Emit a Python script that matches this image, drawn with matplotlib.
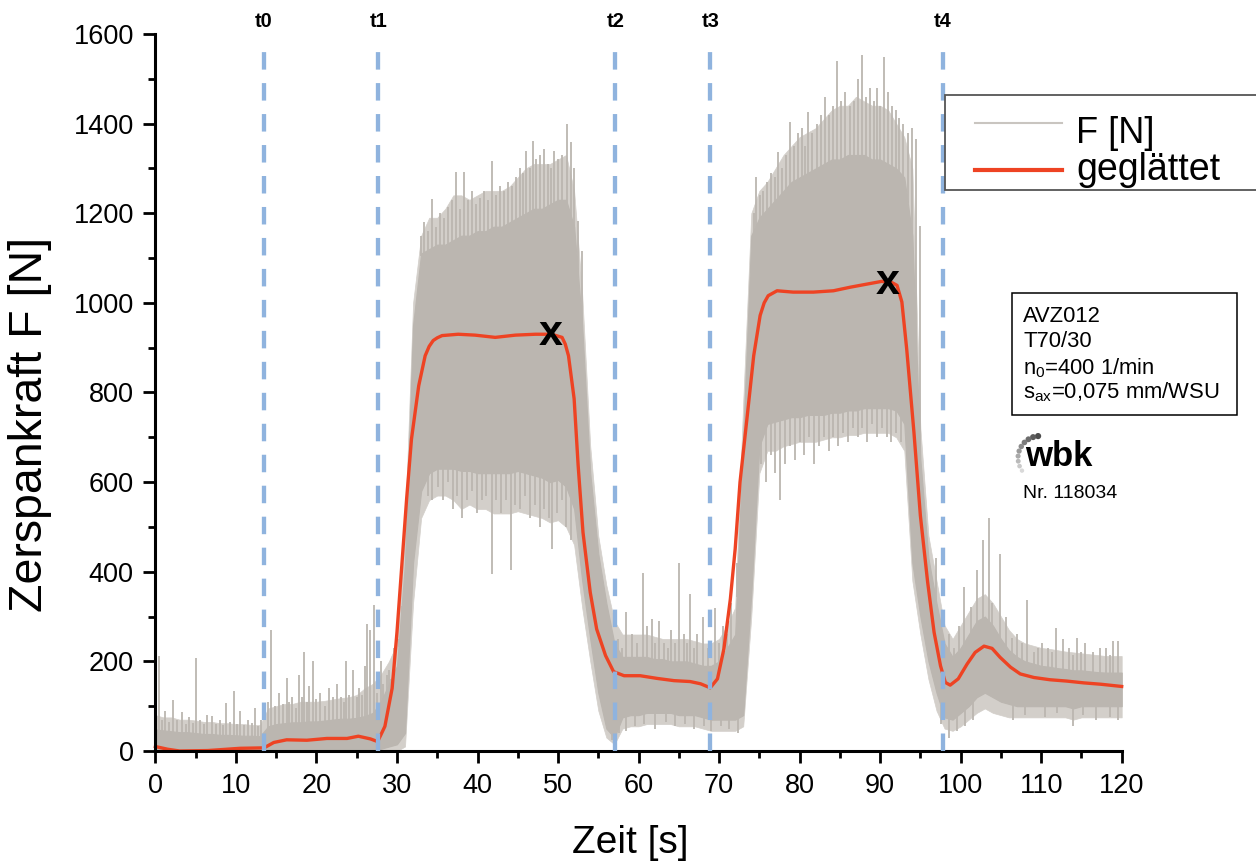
import numpy as np
import matplotlib
matplotlib.use("Agg")
import matplotlib.pyplot as plt
from matplotlib.lines import Line2D
from matplotlib.patches import Rectangle
from matplotlib.collections import PathCollection
from matplotlib.markers import MarkerStyle
from matplotlib.transforms import IdentityTransform

plt.rcParams["font.family"] = ["Liberation Sans", "DejaVu Sans"]
plt.rcParams["mathtext.fontset"] = "custom"
plt.rcParams["mathtext.rm"] = "Liberation Sans"
plt.rcParams["mathtext.it"] = "Liberation Sans"
plt.rcParams["lines.scale_dashes"] = False

# ---------------------------------------------------------------- data
# smoothed cutting force (geglättet)
t_smooth = [0, 1.5, 3, 6.5, 10.5, 13.5, 14.7, 16.3, 18.8, 21.3, 23.8, 25.2, 26.7,
            27.6, 28.5, 29.4, 30.0, 30.6, 31.2, 31.8, 32.7, 33.5, 34.0, 34.5,
            35.0, 35.6, 37.6, 39.7, 42.2, 44.7, 47.2, 49.2, 50.5, 50.9, 51.3,
            52.0, 52.5, 53.1, 54.0, 54.8, 55.9, 56.9, 58.2, 60.2, 62.3, 64.4,
            66.4, 67.7, 68.9, 69.8, 70.6, 71.4, 72.0, 72.6, 73.5, 74.3, 75.1,
            75.6, 76.1, 77.2, 79.2, 81.7, 84.2, 86.3, 88.4, 90.2, 91.4, 92.1,
            92.7, 93.3, 94.2, 95.0, 95.9, 96.7, 97.5, 98.1, 98.7, 99.7, 100.8,
            101.8, 102.9, 103.9, 104.9, 106.2, 107.4, 109.1, 111.1, 113.2,
            115.3, 117.4, 120]
f_smooth = [10, 4, 0, 1, 6, 7, 19, 25, 24, 28, 28, 33, 27,
            21, 55, 140, 265, 414, 563, 696, 815, 882, 903, 916,
            922, 927, 930, 928, 923, 928, 930, 930, 923, 908, 882,
            786, 637, 488, 354, 272, 213, 177, 168, 168, 162, 157,
            155, 150, 141, 161, 228, 339, 451, 600, 748, 882, 972,
            1000, 1016, 1027, 1024, 1024, 1027, 1035, 1042, 1048, 1046, 1039,
            1002, 897, 711, 525, 377, 265, 190, 153, 147, 161, 194,
            220, 234, 229, 209, 187, 172, 164, 159, 156,
            152, 149, 144]

# raw force F [N]: per second, dense core band and the wider scatter band
t_band = list(range(0, 121))
f_band_low = [0] * 28 + [
    5, 10, 15, 40, 420, 580, 620, 630, 630, 630,          # 28-37
    625, 625, 620, 620, 620, 620, 620, 625, 620, 615,     # 38-47
    610, 600, 605, 590, 540, 380, 250, 130, 50, 30,       # 48-57
    75, 80, 80, 85, 85, 85, 85, 80, 80, 80,               # 58-67
    75, 70, 70, 70, 70, 80, 350, 680, 730, 735,           # 68-77
    740, 745, 745, 750, 750, 750, 755, 755, 760, 760,     # 78-87
    765, 765, 765, 765, 760, 730, 420, 300, 200, 130,     # 88-97
    75, 70, 85, 100, 120, 130, 120, 110, 105, 100,        # 98-107
    100, 100, 100, 100, 100, 100, 95, 100, 100, 100,      # 108-117
    100, 100, 100]                                        # 118-120
f_band_high = [
    48, 46, 44, 42, 42, 40, 38, 38, 36, 36,               # 0-9
    35, 34, 34, 33, 55, 60, 62, 64, 64, 66,               # 10-19
    66, 68, 70, 72, 72, 74, 78, 85, 110, 150,             # 20-29
    190, 420, 950, 1110, 1120, 1130, 1130, 1140, 1150, 1150,  # 30-39
    1160, 1160, 1170, 1170, 1180, 1190, 1200, 1210, 1210, 1220,  # 40-49
    1230, 1230, 1170, 950, 620, 440, 330, 240, 210, 210,  # 50-59
    210, 210, 205, 205, 200, 200, 200, 195, 190, 190,     # 60-69
    200, 230, 260, 700, 1150, 1190, 1210, 1230, 1250, 1270,  # 70-79
    1280, 1290, 1300, 1310, 1320, 1320, 1330, 1330, 1330, 1320,  # 80-89
    1320, 1310, 1300, 1280, 1150, 650, 430, 330, 240, 210,  # 90-99
    230, 260, 290, 300, 280, 250, 225, 210, 200, 195,     # 100-109
    190, 188, 185, 183, 180, 180, 178, 176, 175, 175,     # 110-119
    175]                                                  # 120
f_scatter_low = [0] * 28 + [
    0, 0, 0, 10, 330, 520, 560, 570, 570, 560,            # 28-37
    540, 550, 540, 540, 530, 530, 530, 535, 530, 525,     # 38-47
    520, 510, 515, 500, 460, 320, 200, 90, 30, 15,        # 48-57
    50, 55, 55, 60, 60, 60, 60, 55, 55, 55,               # 58-67
    50, 45, 45, 45, 45, 55, 300, 620, 670, 670,           # 68-77
    680, 685, 690, 690, 690, 695, 700, 700, 705, 705,     # 78-87
    710, 710, 710, 710, 700, 670, 380, 260, 160, 90,      # 88-97
    50, 45, 55, 70, 85, 95, 85, 80, 75, 75,               # 98-107
    75, 75, 75, 75, 75, 75, 70, 75, 75, 75,               # 108-117
    75, 75, 75]                                           # 118-120
f_scatter_high = [
    80, 75, 75, 70, 70, 68, 65, 65, 62, 62,               # 0-9
    60, 60, 58, 58, 95, 100, 105, 105, 110, 110,          # 10-19
    110, 112, 115, 118, 120, 125, 140, 150, 170, 200,     # 20-29
    240, 500, 1000, 1150, 1190, 1190, 1210, 1240, 1240, 1230,  # 30-39
    1240, 1250, 1250, 1250, 1260, 1280, 1300, 1310, 1310, 1310,  # 40-49
    1320, 1330, 1250, 1020, 680, 480, 370, 290, 260, 260,  # 50-59
    260, 260, 255, 250, 250, 250, 250, 245, 240, 240,     # 60-69
    250, 280, 320, 780, 1200, 1250, 1270, 1300, 1330, 1350,  # 70-79
    1370, 1380, 1390, 1410, 1430, 1440, 1440, 1460, 1450, 1440,  # 80-89
    1440, 1430, 1400, 1370, 1300, 720, 480, 380, 280, 250,  # 90-99
    280, 310, 340, 350, 330, 300, 270, 250, 240, 235,     # 100-109
    230, 228, 225, 222, 220, 218, 216, 214, 212, 212,     # 110-119
    212]                                                  # 120

# single peaks above the dense band
spike_t = [0.4, 0.8, 1.2, 1.7, 2.2, 2.7, 3.3, 3.8, 4.2, 4.7, 5.1, 5.6, 6.0,
           6.4, 7.0, 7.5, 8.0, 8.4, 8.8, 9.3, 9.7, 10.1, 10.5, 11.0, 11.5,
           12.0, 12.4, 12.8, 13.1,
           14.0, 14.4, 14.8, 15.3, 15.8, 16.3, 16.6, 17.0, 17.4, 17.8, 18.2,
           18.5, 18.8, 19.1, 19.6, 20.0, 20.5, 21.0, 21.5, 22.0, 22.5, 23.0,
           23.4, 23.7, 24.1, 24.6, 25.0, 25.3, 25.7, 26.0, 26.3, 26.7, 27.1,
           27.5, 28.0, 28.3, 28.7, 29.0, 29.3, 29.6, 29.9, 30.2, 30.6,
           33.0, 33.4, 33.8, 34.3, 34.8, 35.3, 35.8, 36.3, 36.8, 37.3, 37.8,
           38.3, 38.8, 39.3, 39.8, 40.3, 40.8, 41.3, 41.8, 42.3, 42.8, 43.3,
           43.8, 44.3, 44.8, 45.3, 45.7, 46.0, 46.5, 46.9, 47.3, 47.8, 48.2,
           48.7, 49.1, 49.5, 50.0, 50.5, 51.1, 51.6, 52.0, 52.5, 53.0,
           57.5, 58.0, 58.5, 59.2, 59.8, 60.5, 61.0, 61.7, 62.1, 62.5, 63.2,
           63.6, 64.0, 64.5, 65.0, 65.6, 66.0, 66.4, 66.9, 67.3, 68.0, 68.6,
           69.5, 70.0, 70.5, 71.0, 71.5, 72.2,
           74.3, 74.6, 75.1, 75.5, 76.0, 76.5, 77.0, 77.3, 77.8, 78.3, 78.8,
           79.3, 79.8, 80.3, 80.7, 81.1, 81.6, 82.1, 82.6, 83.1, 83.6, 84.1,
           84.7, 85.2, 85.7, 86.2, 86.7, 87.2, 87.7, 88.2, 88.7, 89.2, 89.6,
           90.0, 90.5, 91.0, 91.5, 92.0, 92.4, 92.9, 93.4, 94.0, 94.5, 95.0,
           97.0, 98.0, 98.6, 99.2, 99.8, 100.4, 101.3, 102.0, 102.8, 103.5,
           103.9, 104.9, 105.6, 106.4, 107.0, 107.6, 108.3, 109.1, 109.6,
           110.1, 110.9, 111.4, 111.9, 112.7, 113.5, 114.0, 114.4, 115.0,
           115.5, 116.4, 117.3, 118.1, 118.5, 118.9, 119.5]
spike_f = [212, 70, 90, 65, 114, 70, 88, 60, 75, 62, 208, 70, 60,
           80, 78, 60, 70, 58, 107, 65, 135, 60, 90, 58, 70,
           62, 95, 55, 70,
           110, 270, 100, 130, 105, 163, 110, 120, 95, 170, 120,
           220, 110, 145, 200, 115, 130, 100, 140, 120, 150, 120,
           110, 200, 125, 180, 120, 140, 125, 190, 284, 270, 326,
           130, 200, 150, 170, 180, 160, 230, 180, 250, 200,
           1150, 1180, 1160, 1231, 1170, 1200, 1190, 1215, 1230, 1291, 1210,
           1291, 1230, 1250, 1220, 1235, 1250, 1230, 1317, 1240, 1260, 1250,
           1270, 1260, 1280, 1300, 1290, 1339, 1300, 1361, 1320, 1330, 1343,
           1310, 1300, 1340, 1320, 1330, 1399, 1360, 1300, 1183, 1115,
           250, 230, 310, 260, 240, 397, 280, 295, 240, 290, 240,
           230, 270, 240, 420, 260, 240, 350, 230, 260, 300, 230,
           320, 240, 280, 260, 330, 420,
           1200, 1280, 1240, 1250, 1270, 1290, 1280, 1336, 1300, 1330, 1403,
           1350, 1380, 1390, 1350, 1425, 1380, 1400, 1420, 1459, 1420, 1440,
           1540, 1450, 1470, 1440, 1450, 1500, 1553, 1460, 1480, 1450, 1480,
           1440, 1548, 1470, 1440, 1430, 1412, 1400, 1380, 1390, 1365, 1172,
           430, 226, 260, 230, 280, 367, 322, 404, 470, 520,
           330, 440, 300, 252, 260, 240, 337, 220, 230,
           240, 230, 220, 275, 250, 230, 215, 253, 220,
           240, 220, 230, 230, 215, 245, 245]

# single drops below the dense band
dip_t = [33.8, 34.4, 35.1, 35.7, 36.3, 36.9, 37.5, 38.1, 38.7, 39.3, 39.9,
         40.5, 41.0, 41.8, 42.3, 42.9, 43.5, 44.1, 44.7, 45.3, 45.9, 46.5,
         47.1, 47.7, 48.3, 48.9, 49.3, 49.9, 50.5, 51.0, 51.6,
         56.7, 57.0, 57.6, 58.4, 59.5, 60.7, 62.0, 63.4, 64.5, 65.8, 66.9,
         68.1, 69.0, 70.3, 71.2, 72.4,
         74.6, 75.2, 75.8, 76.4, 77.0, 77.6, 78.2, 78.8, 79.4, 80.0, 80.6,
         81.2, 81.8, 82.4, 83.0, 83.6, 84.2, 84.8, 85.4, 86.0, 86.6, 87.2,
         87.8, 88.4, 89.0, 89.6, 90.2, 90.8, 91.4, 92.0, 92.6,
         97.6, 98.5, 99.5, 100.6, 101.5, 106.5, 108.0, 110.5, 112.0, 114.0,
         115.2, 116.8, 118.5, 119.5]
dip_f = [570, 560, 590, 560, 600, 540, 570, 520, 560, 580, 530,
         560, 570, 395, 560, 530, 560, 405, 550, 540, 570, 520,
         550, 500, 540, 520, 450, 530, 560, 500, 470,
         25, 5, 40, 45, 55, 60, 50, 65, 55, 60, 50,
         55, 45, 55, 50, 40,
         560, 640, 600, 660, 620, 560, 640, 680, 650, 690, 660,
         700, 640, 680, 700, 670, 700, 680, 710, 690, 720, 700,
         720, 690, 730, 700, 720, 700, 690, 710, 690,
         60, 30, 45, 55, 70, 70, 80, 75, 85, 55,
         80, 70, 75, 70]

phase_t = [13.5, 27.7, 57.1, 68.9, 97.8]
phase_labels = ["t0", "t1", "t2", "t3", "t4"]
peak_t = [49.1, 90.9]
peak_f = [930, 1045]

# ---------------------------------------------------------------- style
GREY = "#bbb6b0"
GREY_LIGHT = "#d3cfca"
RED = "#ee4323"
BLUE = "#8fb3de"
W, H = 1256, 863


def fx(px):
    return px / W


def fy(py):
    return 1 - py / H


fig = plt.figure(figsize=(W / 100, H / 100), dpi=100)
fig.patch.set_facecolor("white")
ax = fig.add_axes([155.4 / W, (H - 751) / H, (1121.7 - 155.4) / W, (751 - 34) / H])

# raw signal
ax.fill_between(t_band, f_scatter_low, f_scatter_high, color=GREY_LIGHT, lw=0.5,
                edgecolor=GREY_LIGHT, zorder=0.8)
ax.fill_between(t_band, f_band_low, f_band_high, color=GREY, lw=0.8,
                edgecolor=GREY, zorder=1)
base_hi = np.interp(spike_t, t_band, f_band_high)
ax.vlines(spike_t, base_hi - 5, spike_f, color=GREY, lw=1.3, zorder=1)
base_lo = np.interp(dip_t, t_band, f_band_low)
ax.vlines(dip_t, dip_f, base_lo + 5, color=GREY, lw=1.3, zorder=1)

# smoothed curve
ax.plot(t_smooth, f_smooth, color=RED, lw=2.4, zorder=2, clip_on=False,
        solid_joinstyle="round")

# phase markers
for tp, lab in zip(phase_t, phase_labels):
    ax.plot([tp, tp], [0, 1560], color=BLUE, lw=3.1, dashes=(12.6, 9.7),
            zorder=3, clip_on=False)
    ax.text(tp, 1627, lab, ha="center", va="center", fontsize=14.5,
            fontweight="bold", color="black")

# maxima
for tp, fp in zip(peak_t, peak_f):
    ax.text(tp, fp, "x", ha="center", va="center", fontsize=31,
            fontweight="bold", color="black", zorder=4)

# axes
ax.set_xlim(0, 120)
ax.set_ylim(0, 1600)
ax.set_xticks(np.arange(0, 121, 10))
ax.set_xticks(np.arange(0, 121, 5), minor=True)
ax.set_yticks(np.arange(0, 1601, 200))
ax.set_yticks(np.arange(0, 1601, 100), minor=True)
for s in ("top", "right"):
    ax.spines[s].set_visible(False)
for s in ("left", "bottom"):
    ax.spines[s].set_linewidth(2.2)
ax.tick_params(which="major", direction="out", length=8.5, width=2.0,
               labelsize=19.5, pad=7)
ax.tick_params(which="minor", direction="out", length=5, width=2.0)
ax.set_facecolor("none")

ax.set_ylabel("Zerspankraft F [N]", fontsize=33.5)
ax.yaxis.set_label_coords(-0.107, 0.455)
ax.set_xlabel("Zeit [s]", fontsize=28)
ax.xaxis.set_label_coords(0.491, -0.103)

# legend, open to the right
fig.add_artist(Rectangle((fx(945), fy(190)), fx(1320) - fx(945), (190 - 95) / H,
                         transform=fig.transFigure, facecolor="white",
                         edgecolor="#555555", lw=1.3, zorder=5))
fig.add_artist(Line2D([fx(975), fx(1062)], [fy(123), fy(123)],
                      transform=fig.transFigure, color="#c9c5c0", lw=1.5, zorder=6))
fig.add_artist(Line2D([fx(975), fx(1062)], [fy(170), fy(170)],
                      transform=fig.transFigure, color=RED, lw=3, zorder=6))
fig.text(fx(1076), fy(142.7), "F [N]", fontsize=26, va="baseline", ha="left", zorder=7)
fig.text(fx(1076), fy(180), "geglättet", fontsize=27, va="baseline", ha="left", zorder=7)

# test parameters
fig.add_artist(Rectangle((fx(1012), fy(415)), fx(1237) - fx(1012), (415 - 293) / H,
                         transform=fig.transFigure, facecolor="white",
                         edgecolor="black", lw=1.1, zorder=5))
info = ["AVZ012", "T70/30", r"n$_0$=400 1/min", r"s$_{\rm ax}$=0,075 mm/WSU"]
for yb, line in zip([321.7, 346.7, 374.3, 398.3], info):
    fig.text(fx(1023), fy(yb), line, fontsize=15.8, va="baseline", ha="left", zorder=7)

# institute logo
ang = np.deg2rad(np.linspace(-95, -215, 10))
dot_x = 1040 + 22 * np.cos(ang)
dot_y = 458 + 22 * np.sin(ang)
shades = np.linspace(0.3, 0.85, 10)
sizes = np.linspace(5, 2.5, 10)
fig.add_artist(PathCollection(
    [MarkerStyle("o").get_path()], sizes=sizes,
    offsets=np.column_stack([fx(dot_x), fy(dot_y)]),
    offset_transform=fig.transFigure, facecolors=[str(s) for s in shades],
    edgecolors="none", transform=IdentityTransform()))
fig.text(fx(1025), fy(466), "wbk", fontsize=25, fontweight="bold",
         va="baseline", ha="left")
fig.text(fx(1023), fy(498.3), "Nr. 118034", fontsize=14, va="baseline", ha="left")

fig.savefig("out.png", dpi=100, facecolor="white")
